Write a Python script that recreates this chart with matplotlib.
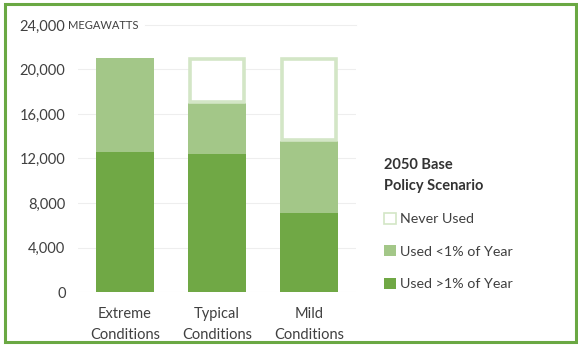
import matplotlib
matplotlib.use("Agg")
import matplotlib.pyplot as plt
from matplotlib.patches import Rectangle, Patch

plt.rcParams['font.family'] = ['Lato', 'DejaVu Sans']

conditions = ['Extreme\nConditions', 'Typical\nConditions', 'Mild\nConditions']
used_over_1 = [12600, 12400, 7100]
used_under_1 = [8400, 4600, 6500]
never_used = [0, 4000, 7400]
yticks = [0, 4000, 8000, 12000, 16000, 20000, 24000]

dark = '#70a845'
light = '#a3c788'
pale = '#d3e6c6'
txt = '#404040'

fig = plt.figure(figsize=(5.78, 3.46), dpi=100)
ax = fig.add_axes([0.135, 0.156, 0.481, 0.772])

x = list(range(len(conditions)))
w = 0.63
ax.bar(x, used_over_1, w, color=dark, zorder=2)
ax.bar(x, used_under_1, w, bottom=used_over_1, color=light, zorder=2)
bottom3 = [a + b for a, b in zip(used_over_1, used_under_1)]
for xi, h, bt in zip(x, never_used, bottom3):
    if h > 0:
        ax.bar(xi, h - 200, w - 0.035, bottom=bt + 100, color='white', edgecolor=pale,
               linewidth=2.6, zorder=2)

ax.set_xlim(-0.51, 2.51)
ax.set_ylim(0, 24000)
ax.set_yticks(yticks)
ax.set_yticklabels([f'{v:,}' for v in yticks], fontsize=10.5, color=txt)
ax.set_xticks(x)
ax.set_xticklabels(conditions, fontsize=10.5, color=txt, linespacing=1.6)
ax.tick_params(length=0, pad=9)
ax.tick_params(axis='x', pad=11)
for s in ax.spines.values():
    s.set_visible(False)
for v in yticks[:-1]:
    ax.axhline(v, color='#eeeeee', lw=0.8, zorder=0)
ax.axhline(24000, xmin=0.24, color='#eeeeee', lw=0.8, zorder=0, clip_on=False)
ax.text(-0.51 - 0.11, 24000, 'MEGAWATTS', fontsize=8, color=txt, va='center_baseline',
        ha='left', transform=ax.transData)

handles = [Patch(facecolor='white', edgecolor=pale, linewidth=1.2, label='Never Used'),
           Patch(facecolor=light, label='Used <1% of Year'),
           Patch(facecolor=dark, label='Used >1% of Year')]
leg = fig.legend(handles=handles, loc='upper left', bbox_to_anchor=(0.655, 0.559),
                 frameon=False, fontsize=10.3, title='2050 Base\nPolicy Scenario',
                 title_fontproperties={'weight': 'bold', 'size': 10.5}, alignment='left',
                 handlelength=0.8, handleheight=0.8, handletextpad=0.3, labelspacing=1.4,
                 borderaxespad=0)
leg.get_title().set_linespacing(1.6)
for t in leg.get_texts():
    t.set_color(txt)
leg.get_title().set_color('#333333')

fig.patches.append(Rectangle((5 / 578, 4 / 346), 571 / 578, 338 / 346, transform=fig.transFigure,
                             fill=False, edgecolor='#6aa843', linewidth=2.2))

fig.savefig('out.png', dpi=100)
